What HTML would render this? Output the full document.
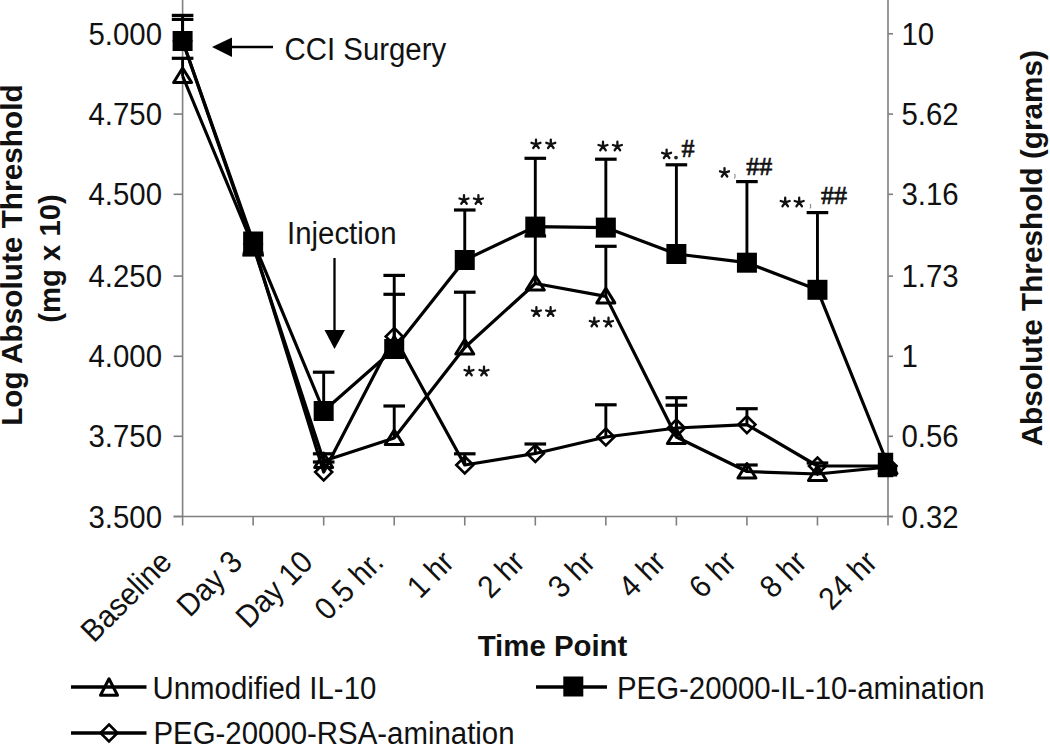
<!DOCTYPE html>
<html><head><meta charset="utf-8"><style>
html,body{margin:0;padding:0;background:#fff;overflow:hidden;}
svg{display:block;}
.tl{font-family:"Liberation Sans",sans-serif;font-size:29.4px;fill:#111;}
.tt{font-family:"Liberation Sans",sans-serif;font-size:29px;font-weight:bold;fill:#111;}
.st{font-family:"Liberation Serif",serif;font-weight:bold;font-size:25px;fill:#111;}
.hs{font-family:"Liberation Serif",serif;font-size:26px;fill:#111;stroke:#111;stroke-width:0.7px;}
.cm{font-family:"Liberation Serif",serif;font-weight:bold;font-size:15px;fill:#222;}
</style></head><body>
<svg width="1050" height="746" viewBox="0 0 1050 746">
<line x1="182.6" y1="0" x2="182.6" y2="516.5" stroke="#7f7f7f" stroke-width="1.6"/>
<line x1="888.0" y1="0" x2="888.0" y2="516.5" stroke="#7f7f7f" stroke-width="1.6"/>
<line x1="173.6" y1="516.5" x2="893.0" y2="516.5" stroke="#7f7f7f" stroke-width="1.6"/>
<line x1="173.6" y1="33.8" x2="182.6" y2="33.8" stroke="#7f7f7f" stroke-width="1.6"/>
<line x1="888.0" y1="33.8" x2="893.0" y2="33.8" stroke="#7f7f7f" stroke-width="1.6"/>
<text transform="translate(162,44.8) scale(1,1.07)" text-anchor="end" class="tl">5.000</text>
<text transform="translate(901.5,44.8) scale(1,1.07)" text-anchor="start" class="tl">10</text>
<line x1="173.6" y1="114.1" x2="182.6" y2="114.1" stroke="#7f7f7f" stroke-width="1.6"/>
<line x1="888.0" y1="114.1" x2="893.0" y2="114.1" stroke="#7f7f7f" stroke-width="1.6"/>
<text transform="translate(162,125.1) scale(1,1.07)" text-anchor="end" class="tl">4.750</text>
<text transform="translate(901.5,125.1) scale(1,1.07)" text-anchor="start" class="tl">5.62</text>
<line x1="173.6" y1="194.3" x2="182.6" y2="194.3" stroke="#7f7f7f" stroke-width="1.6"/>
<line x1="888.0" y1="194.3" x2="893.0" y2="194.3" stroke="#7f7f7f" stroke-width="1.6"/>
<text transform="translate(162,205.3) scale(1,1.07)" text-anchor="end" class="tl">4.500</text>
<text transform="translate(901.5,205.3) scale(1,1.07)" text-anchor="start" class="tl">3.16</text>
<line x1="173.6" y1="276.1" x2="182.6" y2="276.1" stroke="#7f7f7f" stroke-width="1.6"/>
<line x1="888.0" y1="276.1" x2="893.0" y2="276.1" stroke="#7f7f7f" stroke-width="1.6"/>
<text transform="translate(162,287.1) scale(1,1.07)" text-anchor="end" class="tl">4.250</text>
<text transform="translate(901.5,287.1) scale(1,1.07)" text-anchor="start" class="tl">1.73</text>
<line x1="173.6" y1="356.3" x2="182.6" y2="356.3" stroke="#7f7f7f" stroke-width="1.6"/>
<line x1="888.0" y1="356.3" x2="893.0" y2="356.3" stroke="#7f7f7f" stroke-width="1.6"/>
<text transform="translate(162,367.3) scale(1,1.07)" text-anchor="end" class="tl">4.000</text>
<text transform="translate(901.5,367.3) scale(1,1.07)" text-anchor="start" class="tl">1</text>
<line x1="173.6" y1="436.3" x2="182.6" y2="436.3" stroke="#7f7f7f" stroke-width="1.6"/>
<line x1="888.0" y1="436.3" x2="893.0" y2="436.3" stroke="#7f7f7f" stroke-width="1.6"/>
<text transform="translate(162,447.3) scale(1,1.07)" text-anchor="end" class="tl">3.750</text>
<text transform="translate(901.5,447.3) scale(1,1.07)" text-anchor="start" class="tl">0.56</text>
<line x1="173.6" y1="516.5" x2="182.6" y2="516.5" stroke="#7f7f7f" stroke-width="1.6"/>
<line x1="888.0" y1="516.5" x2="893.0" y2="516.5" stroke="#7f7f7f" stroke-width="1.6"/>
<text transform="translate(162,527.5) scale(1,1.07)" text-anchor="end" class="tl">3.500</text>
<text transform="translate(901.5,527.5) scale(1,1.07)" text-anchor="start" class="tl">0.32</text>
<line x1="182.6" y1="516.5" x2="182.6" y2="525.5" stroke="#7f7f7f" stroke-width="1.6"/>
<line x1="253.14" y1="516.5" x2="253.14" y2="525.5" stroke="#7f7f7f" stroke-width="1.6"/>
<line x1="323.68" y1="516.5" x2="323.68" y2="525.5" stroke="#7f7f7f" stroke-width="1.6"/>
<line x1="394.22" y1="516.5" x2="394.22" y2="525.5" stroke="#7f7f7f" stroke-width="1.6"/>
<line x1="464.76" y1="516.5" x2="464.76" y2="525.5" stroke="#7f7f7f" stroke-width="1.6"/>
<line x1="535.3" y1="516.5" x2="535.3" y2="525.5" stroke="#7f7f7f" stroke-width="1.6"/>
<line x1="605.84" y1="516.5" x2="605.84" y2="525.5" stroke="#7f7f7f" stroke-width="1.6"/>
<line x1="676.38" y1="516.5" x2="676.38" y2="525.5" stroke="#7f7f7f" stroke-width="1.6"/>
<line x1="746.92" y1="516.5" x2="746.92" y2="525.5" stroke="#7f7f7f" stroke-width="1.6"/>
<line x1="817.46" y1="516.5" x2="817.46" y2="525.5" stroke="#7f7f7f" stroke-width="1.6"/>
<line x1="888.0" y1="516.5" x2="888.0" y2="525.5" stroke="#7f7f7f" stroke-width="1.6"/>
<text transform="translate(173.6,564.0) rotate(-45) scale(1,1.07)" text-anchor="end" class="tl">Baseline</text>
<text transform="translate(244.14,564.0) rotate(-45) scale(1,1.07)" text-anchor="end" class="tl">Day 3</text>
<text transform="translate(314.68,564.0) rotate(-45) scale(1,1.07)" text-anchor="end" class="tl">Day 10</text>
<text transform="translate(385.22,564.0) rotate(-45) scale(1,1.07)" text-anchor="end" class="tl">0.5 hr.</text>
<text transform="translate(455.76,564.0) rotate(-45) scale(1,1.07)" text-anchor="end" class="tl">1 hr</text>
<text transform="translate(526.3,564.0) rotate(-45) scale(1,1.07)" text-anchor="end" class="tl">2 hr</text>
<text transform="translate(596.84,564.0) rotate(-45) scale(1,1.07)" text-anchor="end" class="tl">3 hr</text>
<text transform="translate(667.38,564.0) rotate(-45) scale(1,1.07)" text-anchor="end" class="tl">4 hr</text>
<text transform="translate(737.92,564.0) rotate(-45) scale(1,1.07)" text-anchor="end" class="tl">6 hr</text>
<text transform="translate(808.46,564.0) rotate(-45) scale(1,1.07)" text-anchor="end" class="tl">8 hr</text>
<text transform="translate(879.0,564.0) rotate(-45) scale(1,1.07)" text-anchor="end" class="tl">24 hr</text>
<line x1="182.6" y1="76" x2="182.6" y2="58.3" stroke="#000" stroke-width="2.9"/><line x1="171.79999999999998" y1="58.3" x2="193.4" y2="58.3" stroke="#000" stroke-width="3.2"/><line x1="253.14" y1="246" x2="253.14" y2="255" stroke="#000" stroke-width="2.9"/><line x1="242.33999999999997" y1="255" x2="263.94" y2="255" stroke="#000" stroke-width="3.2"/><line x1="323.68" y1="461" x2="323.68" y2="453.8" stroke="#000" stroke-width="2.9"/><line x1="312.88" y1="453.8" x2="334.48" y2="453.8" stroke="#000" stroke-width="3.2"/><line x1="394.22" y1="438" x2="394.22" y2="406" stroke="#000" stroke-width="2.9"/><line x1="383.42" y1="406" x2="405.02000000000004" y2="406" stroke="#000" stroke-width="3.2"/><line x1="464.76" y1="347.5" x2="464.76" y2="292.2" stroke="#000" stroke-width="2.9"/><line x1="453.96" y1="292.2" x2="475.56" y2="292.2" stroke="#000" stroke-width="3.2"/><line x1="535.3" y1="283.5" x2="535.3" y2="236" stroke="#000" stroke-width="2.9"/><line x1="524.5" y1="236" x2="546.0999999999999" y2="236" stroke="#000" stroke-width="3.2"/><line x1="605.84" y1="296.4" x2="605.84" y2="246.3" stroke="#000" stroke-width="2.9"/><line x1="595.0400000000001" y1="246.3" x2="616.64" y2="246.3" stroke="#000" stroke-width="3.2"/><line x1="676.38" y1="437" x2="676.38" y2="405.2" stroke="#000" stroke-width="2.9"/><line x1="665.58" y1="405.2" x2="687.18" y2="405.2" stroke="#000" stroke-width="3.2"/><line x1="746.92" y1="471.5" x2="746.92" y2="465" stroke="#000" stroke-width="2.9"/><line x1="736.12" y1="465" x2="757.7199999999999" y2="465" stroke="#000" stroke-width="3.2"/><line x1="817.46" y1="474" x2="817.46" y2="463" stroke="#000" stroke-width="2.9"/><line x1="806.6600000000001" y1="463" x2="828.26" y2="463" stroke="#000" stroke-width="3.2"/>
<polyline points="182.6,76 253.14,246 323.68,461 394.22,438 464.76,347.5 535.3,283.5 605.84,296.4 676.38,437 746.92,471.5 817.46,474 888.0,467" fill="none" stroke="#000" stroke-width="3.2" stroke-linejoin="round"/>
<line x1="182.6" y1="41" x2="182.6" y2="15.4" stroke="#000" stroke-width="2.9"/><line x1="171.79999999999998" y1="15.4" x2="193.4" y2="15.4" stroke="#000" stroke-width="3.2"/><line x1="323.68" y1="411" x2="323.68" y2="372.2" stroke="#000" stroke-width="2.9"/><line x1="312.88" y1="372.2" x2="334.48" y2="372.2" stroke="#000" stroke-width="3.2"/><line x1="394.22" y1="349" x2="394.22" y2="275.4" stroke="#000" stroke-width="2.9"/><line x1="383.42" y1="275.4" x2="405.02000000000004" y2="275.4" stroke="#000" stroke-width="3.2"/><line x1="464.76" y1="260" x2="464.76" y2="210" stroke="#000" stroke-width="2.9"/><line x1="453.96" y1="210" x2="475.56" y2="210" stroke="#000" stroke-width="3.2"/><line x1="535.3" y1="226.6" x2="535.3" y2="158.3" stroke="#000" stroke-width="2.9"/><line x1="524.5" y1="158.3" x2="546.0999999999999" y2="158.3" stroke="#000" stroke-width="3.2"/><line x1="605.84" y1="227.6" x2="605.84" y2="159.2" stroke="#000" stroke-width="2.9"/><line x1="595.0400000000001" y1="159.2" x2="616.64" y2="159.2" stroke="#000" stroke-width="3.2"/><line x1="676.38" y1="254" x2="676.38" y2="164.8" stroke="#000" stroke-width="2.9"/><line x1="665.58" y1="164.8" x2="687.18" y2="164.8" stroke="#000" stroke-width="3.2"/><line x1="746.92" y1="262.7" x2="746.92" y2="181.6" stroke="#000" stroke-width="2.9"/><line x1="736.12" y1="181.6" x2="757.7199999999999" y2="181.6" stroke="#000" stroke-width="3.2"/><line x1="817.46" y1="289.8" x2="817.46" y2="212.6" stroke="#000" stroke-width="2.9"/><line x1="806.6600000000001" y1="212.6" x2="828.26" y2="212.6" stroke="#000" stroke-width="3.2"/>
<polyline points="182.6,41 253.14,241.5 323.68,411 394.22,349 464.76,260 535.3,226.6 605.84,227.6 676.38,254 746.92,262.7 817.46,289.8 888.0,465" fill="none" stroke="#000" stroke-width="3.2" stroke-linejoin="round"/>
<line x1="182.6" y1="41" x2="182.6" y2="19.4" stroke="#000" stroke-width="2.9"/><line x1="171.79999999999998" y1="19.4" x2="193.4" y2="19.4" stroke="#000" stroke-width="3.2"/><line x1="323.68" y1="472" x2="323.68" y2="462" stroke="#000" stroke-width="2.9"/><line x1="312.88" y1="462" x2="334.48" y2="462" stroke="#000" stroke-width="3.2"/><line x1="394.22" y1="336.5" x2="394.22" y2="294.3" stroke="#000" stroke-width="2.9"/><line x1="383.42" y1="294.3" x2="405.02000000000004" y2="294.3" stroke="#000" stroke-width="3.2"/><line x1="464.76" y1="465" x2="464.76" y2="453.8" stroke="#000" stroke-width="2.9"/><line x1="453.96" y1="453.8" x2="475.56" y2="453.8" stroke="#000" stroke-width="3.2"/><line x1="535.3" y1="453.5" x2="535.3" y2="444" stroke="#000" stroke-width="2.9"/><line x1="524.5" y1="444" x2="546.0999999999999" y2="444" stroke="#000" stroke-width="3.2"/><line x1="605.84" y1="437" x2="605.84" y2="404.8" stroke="#000" stroke-width="2.9"/><line x1="595.0400000000001" y1="404.8" x2="616.64" y2="404.8" stroke="#000" stroke-width="3.2"/><line x1="676.38" y1="428" x2="676.38" y2="397.7" stroke="#000" stroke-width="2.9"/><line x1="665.58" y1="397.7" x2="687.18" y2="397.7" stroke="#000" stroke-width="3.2"/><line x1="746.92" y1="424.6" x2="746.92" y2="408.7" stroke="#000" stroke-width="2.9"/><line x1="736.12" y1="408.7" x2="757.7199999999999" y2="408.7" stroke="#000" stroke-width="3.2"/>
<polyline points="182.6,41 253.14,244 323.68,472 394.22,336.5 464.76,465 535.3,453.5 605.84,437 676.38,428 746.92,424.6 817.46,466 888.0,466" fill="none" stroke="#000" stroke-width="3.2" stroke-linejoin="round"/>
<polygon points="182.6,32.5 191.1,41 182.6,49.5 174.1,41" fill="none" stroke="#000" stroke-width="2.6"/>
<polygon points="253.14,235.5 261.64,244 253.14,252.5 244.64,244" fill="none" stroke="#000" stroke-width="2.6"/>
<polygon points="323.68,463.5 332.18,472 323.68,480.5 315.18,472" fill="none" stroke="#000" stroke-width="2.6"/>
<polygon points="394.22,328.0 402.72,336.5 394.22,345.0 385.72,336.5" fill="none" stroke="#000" stroke-width="2.6"/>
<polygon points="464.76,456.5 473.26,465 464.76,473.5 456.26,465" fill="none" stroke="#000" stroke-width="2.6"/>
<polygon points="535.3,445.0 543.8,453.5 535.3,462.0 526.8,453.5" fill="none" stroke="#000" stroke-width="2.6"/>
<polygon points="605.84,428.5 614.34,437 605.84,445.5 597.34,437" fill="none" stroke="#000" stroke-width="2.6"/>
<polygon points="676.38,419.5 684.88,428 676.38,436.5 667.88,428" fill="none" stroke="#000" stroke-width="2.6"/>
<polygon points="746.92,416.1 755.42,424.6 746.92,433.1 738.42,424.6" fill="none" stroke="#000" stroke-width="2.6"/>
<polygon points="817.46,457.5 825.96,466 817.46,474.5 808.96,466" fill="none" stroke="#000" stroke-width="2.6"/>
<polygon points="888.0,457.5 896.5,466 888.0,474.5 879.5,466" fill="none" stroke="#000" stroke-width="2.6"/>
<polygon points="182.6,68 191.6,82.5 173.6,82.5" fill="none" stroke="#000" stroke-width="3" stroke-linejoin="round"/>
<polygon points="253.14,238 262.14,252.5 244.14,252.5" fill="none" stroke="#000" stroke-width="3" stroke-linejoin="round"/>
<polygon points="323.68,453 332.68,467.5 314.68,467.5" fill="none" stroke="#000" stroke-width="3" stroke-linejoin="round"/>
<polygon points="394.22,430 403.22,444.5 385.22,444.5" fill="none" stroke="#000" stroke-width="3" stroke-linejoin="round"/>
<polygon points="464.76,339.5 473.76,354.0 455.76,354.0" fill="none" stroke="#000" stroke-width="3" stroke-linejoin="round"/>
<polygon points="535.3,275.5 544.3,290.0 526.3,290.0" fill="none" stroke="#000" stroke-width="3" stroke-linejoin="round"/>
<polygon points="605.84,288.4 614.84,302.9 596.84,302.9" fill="none" stroke="#000" stroke-width="3" stroke-linejoin="round"/>
<polygon points="676.38,429 685.38,443.5 667.38,443.5" fill="none" stroke="#000" stroke-width="3" stroke-linejoin="round"/>
<polygon points="746.92,463.5 755.92,478.0 737.92,478.0" fill="none" stroke="#000" stroke-width="3" stroke-linejoin="round"/>
<polygon points="817.46,466 826.46,480.5 808.46,480.5" fill="none" stroke="#000" stroke-width="3" stroke-linejoin="round"/>
<polygon points="888.0,459 897.0,473.5 879.0,473.5" fill="none" stroke="#000" stroke-width="3" stroke-linejoin="round"/>
<rect x="172.6" y="31" width="20" height="20" fill="#000"/>
<rect x="243.14" y="231.5" width="20" height="20" fill="#000"/>
<rect x="313.68" y="401" width="20" height="20" fill="#000"/>
<rect x="384.22" y="339" width="20" height="20" fill="#000"/>
<rect x="454.76" y="250" width="20" height="20" fill="#000"/>
<rect x="525.3" y="216.6" width="20" height="20" fill="#000"/>
<rect x="595.84" y="217.6" width="20" height="20" fill="#000"/>
<rect x="666.38" y="244" width="20" height="20" fill="#000"/>
<rect x="736.92" y="252.7" width="20" height="20" fill="#000"/>
<rect x="807.46" y="279.8" width="20" height="20" fill="#000"/>
<path d="M877.8,452.8 H893.2 V464.8 H897.2 V476.6 H893.2 V477.2 H877.8 Z" fill="#000"/>
<path d="M464.00,199.95L464.00,195.25M464.00,199.95L468.47,198.50M464.00,199.95L466.76,203.75M464.00,199.95L461.24,203.75M464.00,199.95L459.53,198.50" stroke="#111" stroke-width="2.3" stroke-linecap="round" fill="none"/>
<path d="M478.40,199.95L478.40,195.25M478.40,199.95L482.87,198.50M478.40,199.95L481.16,203.75M478.40,199.95L475.64,203.75M478.40,199.95L473.93,198.50" stroke="#111" stroke-width="2.3" stroke-linecap="round" fill="none"/>
<path d="M536.00,144.25L536.00,139.55M536.00,144.25L540.47,142.80M536.00,144.25L538.76,148.05M536.00,144.25L533.24,148.05M536.00,144.25L531.53,142.80" stroke="#111" stroke-width="2.3" stroke-linecap="round" fill="none"/>
<path d="M550.80,144.25L550.80,139.55M550.80,144.25L555.27,142.80M550.80,144.25L553.56,148.05M550.80,144.25L548.04,148.05M550.80,144.25L546.33,142.80" stroke="#111" stroke-width="2.3" stroke-linecap="round" fill="none"/>
<path d="M603.00,146.45L603.00,141.75M603.00,146.45L607.47,145.00M603.00,146.45L605.76,150.25M603.00,146.45L600.24,150.25M603.00,146.45L598.53,145.00" stroke="#111" stroke-width="2.3" stroke-linecap="round" fill="none"/>
<path d="M617.40,146.45L617.40,141.75M617.40,146.45L621.87,145.00M617.40,146.45L620.16,150.25M617.40,146.45L614.64,150.25M617.40,146.45L612.93,145.00" stroke="#111" stroke-width="2.3" stroke-linecap="round" fill="none"/>
<path d="M666.60,154.25L666.60,149.55M666.60,154.25L671.07,152.80M666.60,154.25L669.36,158.05M666.60,154.25L663.84,158.05M666.60,154.25L662.13,152.80" stroke="#111" stroke-width="2.3" stroke-linecap="round" fill="none"/>
<path d="M724.50,172.75L724.50,168.05M724.50,172.75L728.97,171.30M724.50,172.75L727.26,176.55M724.50,172.75L721.74,176.55M724.50,172.75L720.03,171.30" stroke="#111" stroke-width="2.3" stroke-linecap="round" fill="none"/>
<path d="M785.20,202.45L785.20,197.75M785.20,202.45L789.67,201.00M785.20,202.45L787.96,206.25M785.20,202.45L782.44,206.25M785.20,202.45L780.73,201.00" stroke="#111" stroke-width="2.3" stroke-linecap="round" fill="none"/>
<path d="M799.20,202.45L799.20,197.75M799.20,202.45L803.67,201.00M799.20,202.45L801.96,206.25M799.20,202.45L796.44,206.25M799.20,202.45L794.73,201.00" stroke="#111" stroke-width="2.3" stroke-linecap="round" fill="none"/>
<path d="M469.00,371.45L469.00,366.75M469.00,371.45L473.47,370.00M469.00,371.45L471.76,375.25M469.00,371.45L466.24,375.25M469.00,371.45L464.53,370.00" stroke="#111" stroke-width="2.3" stroke-linecap="round" fill="none"/>
<path d="M484.00,371.45L484.00,366.75M484.00,371.45L488.47,370.00M484.00,371.45L486.76,375.25M484.00,371.45L481.24,375.25M484.00,371.45L479.53,370.00" stroke="#111" stroke-width="2.3" stroke-linecap="round" fill="none"/>
<path d="M536.40,311.95L536.40,307.25M536.40,311.95L540.87,310.50M536.40,311.95L539.16,315.75M536.40,311.95L533.64,315.75M536.40,311.95L531.93,310.50" stroke="#111" stroke-width="2.3" stroke-linecap="round" fill="none"/>
<path d="M550.60,311.95L550.60,307.25M550.60,311.95L555.07,310.50M550.60,311.95L553.36,315.75M550.60,311.95L547.84,315.75M550.60,311.95L546.13,310.50" stroke="#111" stroke-width="2.3" stroke-linecap="round" fill="none"/>
<path d="M594.30,322.45L594.30,317.75M594.30,322.45L598.77,321.00M594.30,322.45L597.06,326.25M594.30,322.45L591.54,326.25M594.30,322.45L589.83,321.00" stroke="#111" stroke-width="2.3" stroke-linecap="round" fill="none"/>
<path d="M608.50,322.45L608.50,317.75M608.50,322.45L612.97,321.00M608.50,322.45L611.26,326.25M608.50,322.45L605.74,326.25M608.50,322.45L604.03,321.00" stroke="#111" stroke-width="2.3" stroke-linecap="round" fill="none"/>
<text x="681.5" y="156.7" class="hs">#</text>
<text x="746.2" y="175.1" class="hs">##</text>
<text x="821" y="204.4" class="hs">##</text>
<circle cx="676" cy="157.6" r="1.9" fill="#222"/>
<path d="M734.8,173.9 l0.3,3 l-0.8,1.5" stroke="#888" stroke-width="1.1" fill="none"/>
<path d="M810.4,203.9 l0.3,3 l-0.8,1.5" stroke="#888" stroke-width="1.1" fill="none"/>
<line x1="230" y1="47" x2="273" y2="47" stroke="#000" stroke-width="2.3"/>
<polygon points="212,47 232,37.5 232,57" fill="#000"/>
<text transform="translate(284.5,60) scale(1,1.07)" text-anchor="start" class="tl">CCI Surgery</text>
<text transform="translate(287,244) scale(1,1.07)" text-anchor="start" class="tl">Injection</text>
<line x1="334.5" y1="258" x2="334.5" y2="332" stroke="#000" stroke-width="2.3"/>
<polygon points="324.5,330 345,330 334.5,349" fill="#000"/>
<text transform="translate(22,255.1) rotate(-90) scale(1.028,1)" text-anchor="middle" class="tt">Log Absolute Threshold</text>
<text transform="translate(60.3,258.5) rotate(-90) scale(1.01,1)" text-anchor="middle" class="tt">(mg x 10)</text>
<text transform="translate(1042,248.2) rotate(-90) scale(1.025,1)" text-anchor="middle" class="tt">Absolute Threshold (grams)</text>
<text transform="translate(552.5,656) scale(1.014,1)" text-anchor="middle" class="tt">Time Point</text>
<line x1="71" y1="687" x2="146.5" y2="687" stroke="#000" stroke-width="3.5"/>
<polygon points="109,678.8 117.5,695.3 100.5,695.3" fill="none" stroke="#000" stroke-width="3" stroke-linejoin="round"/>
<text transform="translate(152.5,698.5) scale(1,1.07)" text-anchor="start" class="tl">Unmodified IL-10</text>
<line x1="536" y1="687" x2="607" y2="687" stroke="#000" stroke-width="3.5"/>
<rect x="563.3" y="676.5" width="20" height="20" fill="#000"/>
<text transform="translate(617,698.5) scale(1,1.07)" text-anchor="start" class="tl">PEG-20000-IL-10-amination</text>
<line x1="71" y1="733" x2="146.5" y2="733" stroke="#000" stroke-width="3.5"/>
<polygon points="109,724.5 117.5,733 109,741.5 100.5,733" fill="none" stroke="#000" stroke-width="2.6"/>
<text transform="translate(153.5,743.5) scale(1,1.07)" text-anchor="start" class="tl">PEG-20000-RSA-amination</text>
</svg></body></html>
